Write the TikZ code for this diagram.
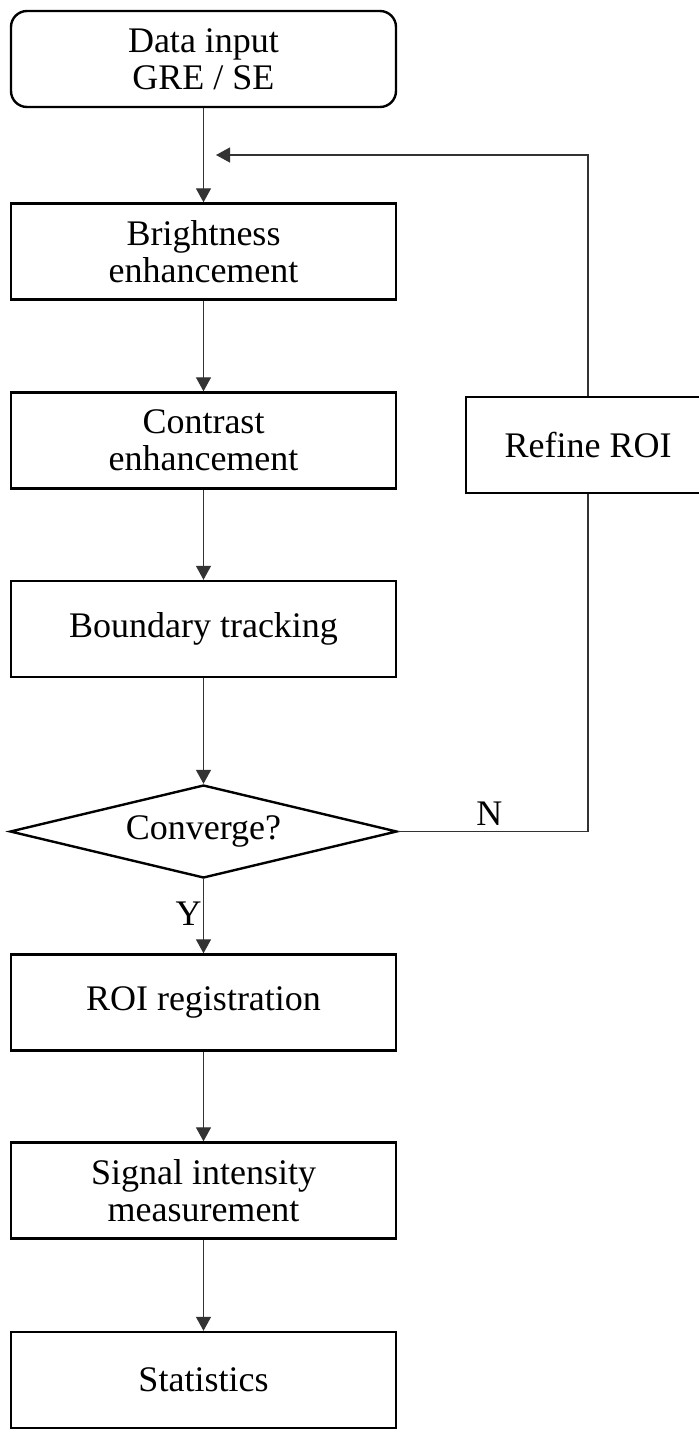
\documentclass[tikz,border=0pt]{standalone}
\usepackage{fontspec}
\setmainfont{Liberation Serif}
\usetikzlibrary{shapes.geometric,arrows.meta}
\begin{document}
\begin{tikzpicture}[x=1pt,y=-1pt,
  every node/.style={font=\fontsize{36}{37}\selectfont, align=center},
  proc/.style={draw=black, line width=2.4pt, minimum width=385pt, minimum height=96pt, inner sep=0pt},
  startbox/.style={proc, rounded corners=16pt},
  decis/.style={draw=black, line width=2.4pt, diamond, aspect=4.16, minimum width=387pt, minimum height=93pt, inner sep=0pt},
  conn/.style={draw=black!80, line width=1.3pt},
  arr/.style={conn, -{Triangle[length=14pt,width=15pt]}},
  lbl/.style={font=\fontsize{36}{37}\selectfont}
]
\useasboundingbox (0,0) rectangle (699,1452);
\node[startbox] (data) at (203.5,59) {Data input\\GRE / SE};
\node[proc] (bright) at (203.5,251.5) {Brightness\\enhancement};
\node[proc] (contr) at (203.5,440.5) {Contrast\\enhancement};
\node[proc] (bound) at (203.5,629) {Boundary tracking};
\node[decis] (conv) at (203.5,831.5) {Converge?};
\node[proc] (roi) at (203.5,1002.5) {ROI registration};
\node[proc] (sig) at (203.5,1190.5) {Signal intensity\\measurement};
\node[proc] (stat) at (203.5,1380) {Statistics};
\node[proc, minimum width=244pt] (refine) at (588,445) {Refine ROI};
\coordinate (loopend) at (216,155);
\draw[arr] (data) -- (bright);
\draw[arr] (bright) -- (contr);
\draw[arr] (contr) -- (bound);
\draw[arr] (bound) -- (conv);
\draw[arr] (conv) -- node[lbl, left, pos=0.47, xshift=2pt] {Y} (roi);
\draw[arr] (roi) -- (sig);
\draw[arr] (sig) -- (stat);
\draw[conn] (conv.east) -- node[lbl, above, pos=0.48, yshift=2pt] {N} (conv.east -| refine.south) -- (refine.south);
\draw[arr] (refine.north) |- (loopend);
\end{tikzpicture}
\end{document}
